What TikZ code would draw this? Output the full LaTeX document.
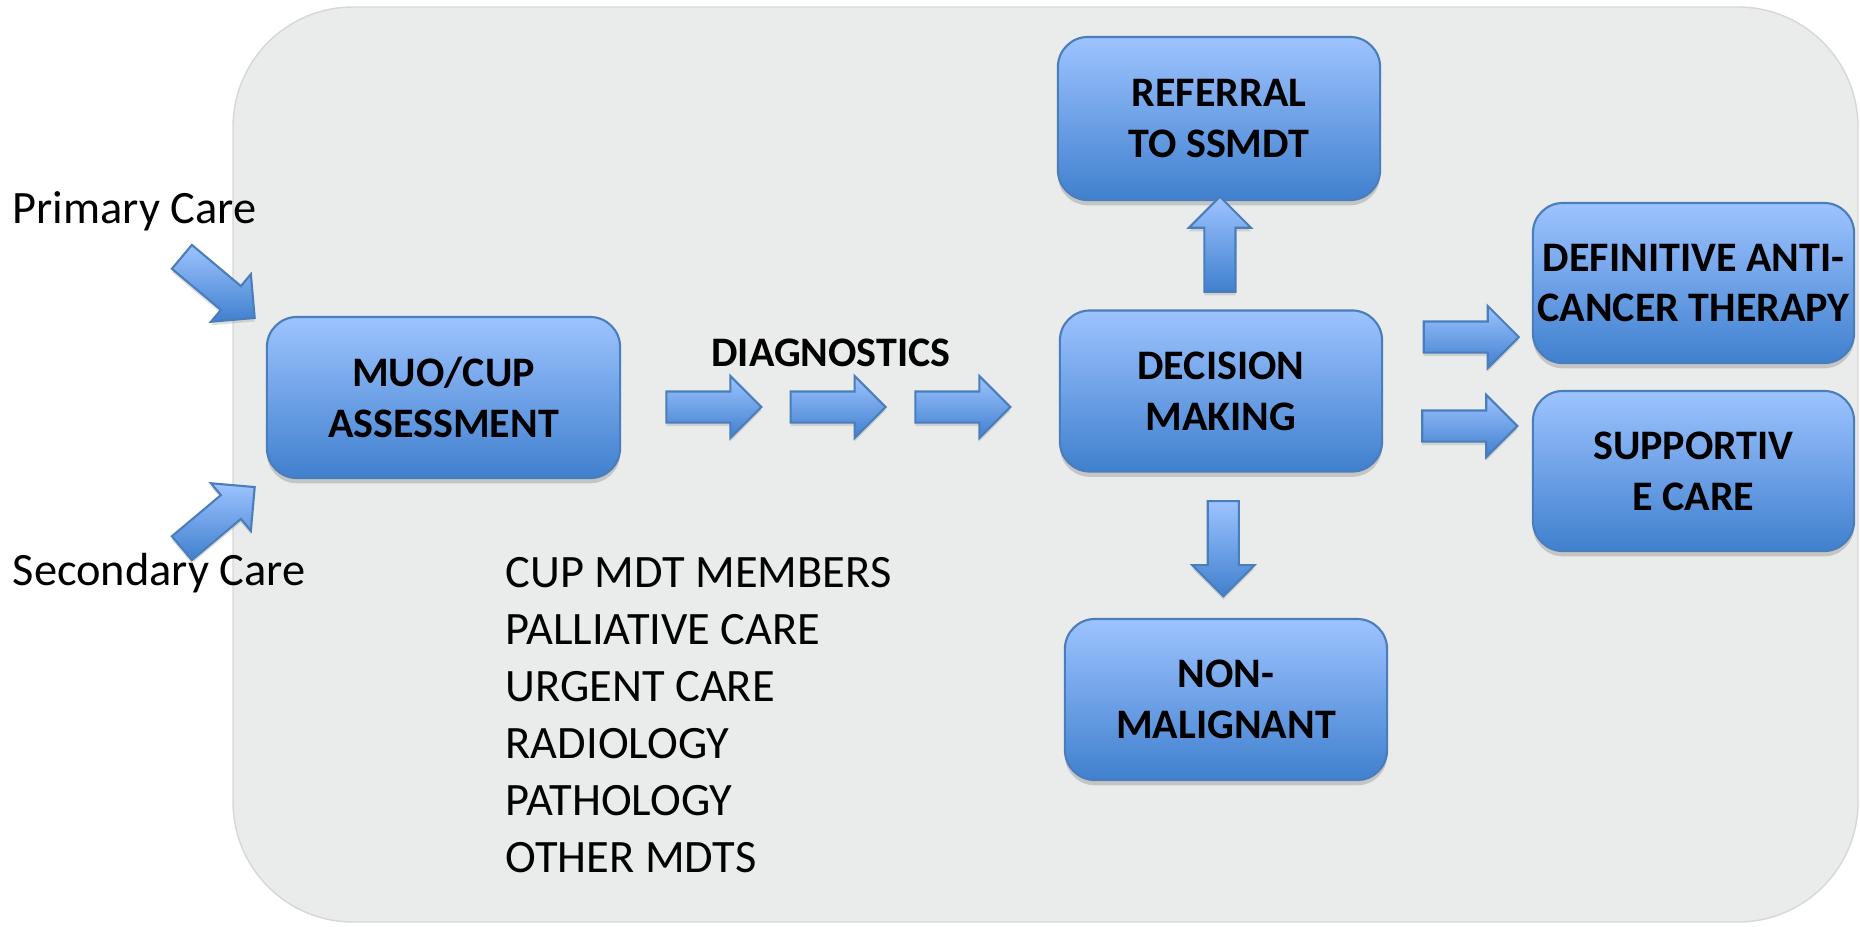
\documentclass[tikz,border=0pt]{standalone}
\usepackage{fontspec}
\setmainfont{Carlito}
\usetikzlibrary{shapes.arrows,shadows}

\definecolor{panelfill}{RGB}{234,235,235}
\definecolor{panelline}{RGB}{214,216,216}
\definecolor{boxtop}{RGB}{157,195,255}
\definecolor{boxbottom}{RGB}{64,128,206}
\definecolor{boxline}{RGB}{74,126,187}

\tikzset{
  careblock/.style={rectangle, rounded corners=0.3cm, draw=boxline, line width=0.6pt,
    top color=boxtop, bottom color=boxbottom,
    minimum width=3.22cm, minimum height=1.61cm, inner sep=0pt, align=center,
    font=\bfseries\fontsize{11.95}{14.5}\selectfont,
    drop shadow={shadow xshift=0pt, shadow yshift=-1.5pt, opacity=0.35}},
  flowarrow/.style={single arrow, draw=boxline, line width=0.6pt,
    top color=boxtop, bottom color=boxbottom,
    minimum height=0.95cm, single arrow head extend=0.155cm,
    inner xsep=0pt, inner ysep=0.145cm,
    drop shadow={shadow xshift=0pt, shadow yshift=-1pt, opacity=0.25}},
  sidelabel/.style={font=\fontsize{13.2}{16.2}\selectfont, inner sep=0pt}
}

\begin{document}
\begin{tikzpicture}[x=0.01cm, y=-0.01cm]
  \useasboundingbox (0,0) rectangle (1860,926);

  % marble panel
  \draw[panelline, fill=panelfill, rounded corners=1.2cm] (233,7) rectangle (1858,922);

  % boxes
  \node[careblock, minimum width=3.53cm] (muo) at (443.5,397.5) {MUO/CUP\\ASSESSMENT};
  \node[careblock] (dec) at (1221,391) {DECISION\\MAKING};
  \node[careblock, minimum height=1.63cm] (ref) at (1219,118.5) {REFERRAL\\TO SSMDT};
  \node[careblock] (non) at (1226,699.5) {NON-\\MALIGNANT};
  \node[careblock, minimum width=3.21cm, minimum height=1.6cm] (def) at (1693.5,283) {DEFINITIVE ANTI-\\CANCER THERAPY};
  \node[careblock, minimum width=3.21cm, minimum height=1.6cm] (sup) at (1693.5,471) {SUPPORTIV\\E CARE};

  % referral sources
  \node[sidelabel, anchor=base west] (prim) at (12,223) {Primary Care};
  \node[sidelabel, anchor=base west] (sec) at (12,585) {Secondary Care};
  \node[flowarrow, rotate=-40, anchor=tip] (primarr) at ([shift={(-10,3)}]muo.north west) {};
  \node[flowarrow, rotate=40, anchor=tip] (secarr) at ([shift={(-10,7)}]muo.south west) {};

  % diagnostics
  \node[font=\bfseries\fontsize{11.95}{14.5}\selectfont, inner sep=0pt] (diag) at (831,353) {DIAGNOSTICS};
  \foreach \p [count=\i] in {0.194,0.478,0.763}
    \path (muo.east |- 0,407) -- node[flowarrow, pos=\p] (diag\i) {} (dec.west |- 0,407);

  % outcomes
  \path (dec.north) -- node[flowarrow, rotate=90, pos=.53] (uparr) {} (ref.south);
  \path (dec.south) -- node[flowarrow, rotate=-90, pos=.47] (downarr) {} (non.north);
  \path (dec.east |- 0,337) -- node[flowarrow, pos=.54] (defarr) {} (def.west |- 0,337);
  \path (dec.east |- 0,426) -- node[flowarrow, pos=.53] (suparr) {} (sup.west |- 0,426);

  % team list
  \foreach \txt [count=\i from 0] in {CUP MDT MEMBERS, PALLIATIVE CARE, URGENT CARE,
      RADIOLOGY, PATHOLOGY, OTHER MDTS}
    \node[sidelabel, anchor=base west] (team\i) at (505,{587+57*\i}) {\txt};
\end{tikzpicture}
\end{document}
